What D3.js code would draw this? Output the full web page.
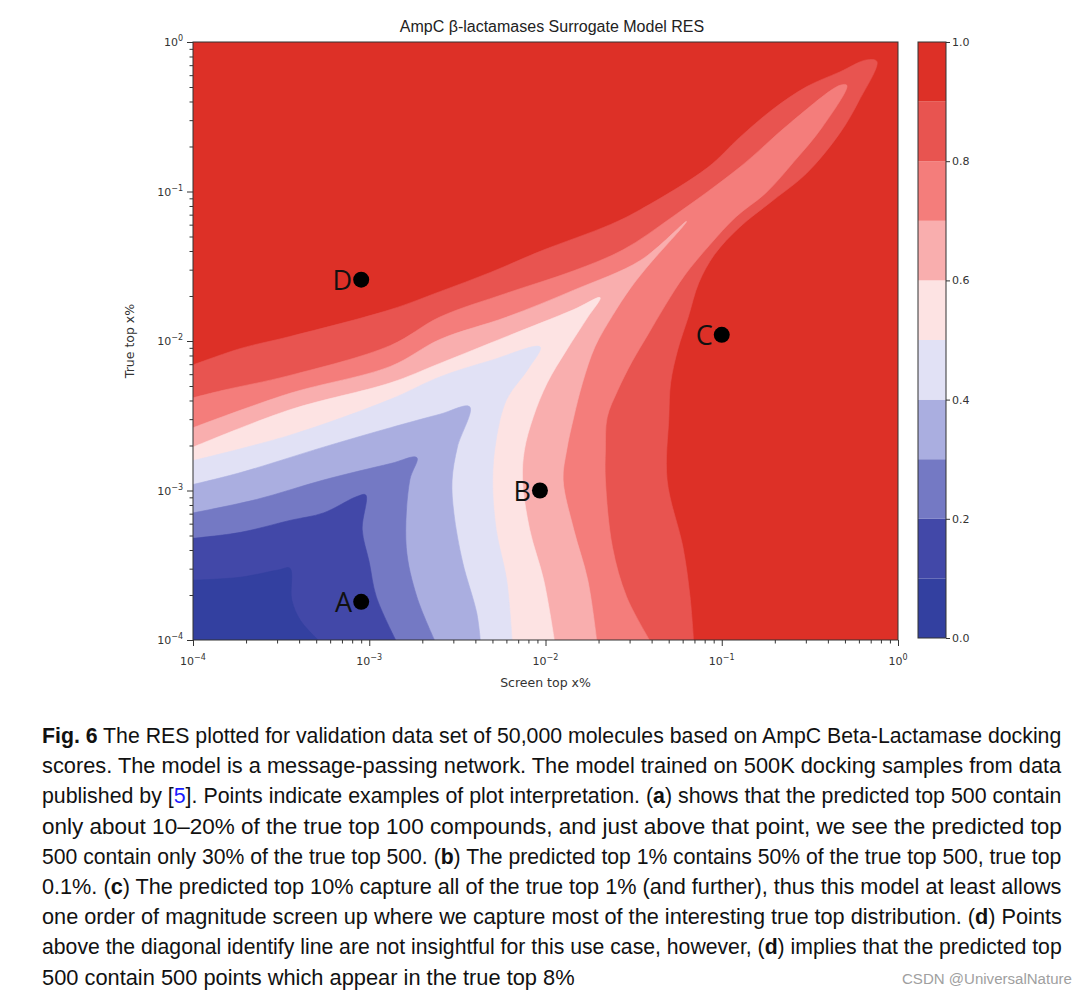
<!DOCTYPE html>
<html>
<head>
<meta charset="utf-8">
<script src="https://cdn.jsdelivr.net/npm/d3@7"></script>
<style>
  body { margin: 0; background: #fff; }
  svg { display: block; }
</style>
</head>
<body>
<svg id="chart" width="1088" height="1000"></svg>
<script>
// ---- data ----
const levels = [0, 0.1, 0.2, 0.3, 0.4, 0.5, 0.6, 0.7, 0.8, 0.9, 1.0];
const bandColors = ["#3340a0", "#4248a8", "#7479c4", "#aaaee0", "#e1e1f5",
                    "#fde3e3", "#f9aeae", "#f47d7b", "#e85450", "#dd3027"];

// contour lines: [log10 screen top, log10 true top], from left edge round to bottom edge
const c01 = [[-4,-3.60],[-3.73,-3.58],[-3.51,-3.53],[-3.45,-3.52],[-3.44,-3.73],[-3.39,-3.87],[-3.29,-4]];
const c02 = [[-4,-3.32],[-3.73,-3.28],[-3.45,-3.20],[-3.26,-3.15],[-3.07,-3.04],[-3.02,-3.03],[-3.04,-3.26],[-3.00,-3.48],[-2.96,-3.71],[-2.85,-4]];
const c03 = [[-4,-3.15],[-3.64,-3.06],[-3.26,-2.93],[-2.88,-2.82],[-2.73,-2.78],[-2.77,-2.93],[-2.79,-3.38],[-2.73,-3.71],[-2.63,-4]];
const c04 = [[-4,-2.96],[-3.73,-2.88],[-3.26,-2.71],[-2.88,-2.58],[-2.60,-2.49],[-2.43,-2.44],[-2.50,-2.71],[-2.53,-2.93],[-2.52,-3.15],[-2.47,-3.48],[-2.39,-3.82],[-2.37,-4]];
const c05 = [[-4,-2.80],[-3.45,-2.63],[-2.88,-2.39],[-2.60,-2.24],[-2.31,-2.13],[-2.03,-2.04],[-2.10,-2.19],[-2.22,-2.39],[-2.28,-2.66],[-2.30,-2.93],[-2.28,-3.26],[-2.22,-3.60],[-2.19,-4]];
const c06 = [[-4,-2.71],[-3.45,-2.46],[-2.88,-2.28],[-2.60,-2.15],[-2.22,-1.97],[-1.84,-1.79],[-1.69,-1.71],[-1.76,-1.84],[-1.88,-2.06],[-1.99,-2.28],[-2.07,-2.51],[-2.12,-2.73],[-2.13,-2.93],[-2.09,-3.26],[-2.01,-3.60],[-1.95,-4]];
const c07 = [[-4,-2.58],[-3.45,-2.35],[-2.88,-2.17],[-2.60,-1.99],[-2.22,-1.84],[-1.84,-1.66],[-1.46,-1.46],[-1.20,-1.20],[-1.42,-1.50],[-1.52,-1.65],[-1.62,-1.83],[-1.72,-2.04],[-1.79,-2.28],[-1.84,-2.51],[-1.88,-2.73],[-1.90,-2.93],[-1.84,-3.26],[-1.76,-3.60],[-1.71,-4]];
const c08 = [[-4,-2.38],[-3.83,-2.33],[-3.45,-2.23],[-2.88,-2.03],[-2.60,-1.84],[-2.22,-1.68],[-1.84,-1.53],[-1.56,-1.39],[-1.28,-1.17],[-0.90,-0.84],[-0.61,-0.54],[-0.33,-0.29],[-0.29,-0.29],[-0.43,-0.57],[-0.59,-0.80],[-0.75,-1.01],[-0.92,-1.17],[-1.07,-1.36],[-1.21,-1.56],[-1.32,-1.76],[-1.42,-1.96],[-1.51,-2.14],[-1.59,-2.33],[-1.65,-2.51],[-1.66,-2.73],[-1.66,-2.93],[-1.62,-3.38],[-1.54,-3.71],[-1.41,-4]];
const c09 = [[-4,-2.16],[-3.73,-2.05],[-3.45,-1.97],[-2.88,-1.79],[-2.60,-1.67],[-2.31,-1.54],[-2.03,-1.40],[-1.63,-1.22],[-1.46,-1.12],[-1.08,-0.84],[-0.90,-0.64],[-0.71,-0.45],[-0.52,-0.30],[-0.33,-0.20],[-0.18,-0.12],[-0.12,-0.13],[-0.22,-0.39],[-0.33,-0.61],[-0.52,-0.88],[-0.71,-1.06],[-0.90,-1.24],[-1.04,-1.42],[-1.13,-1.61],[-1.19,-1.84],[-1.25,-2.06],[-1.29,-2.28],[-1.30,-2.51],[-1.31,-2.93],[-1.22,-3.38],[-1.18,-3.71],[-1.16,-4]];
const contourLines = [c01, c02, c03, c04, c05, c06, c07, c08, c09]; // level 0.1 .. 0.9

const markers = [
  { label: "A", x: 0.0009, y: 0.00018 },
  { label: "B", x: 0.0093, y: 0.001 },
  { label: "C", x: 0.1, y: 0.011 },
  { label: "D", x: 0.0009, y: 0.0257 }
];

const majorTicks = [1e-4, 1e-3, 1e-2, 1e-1, 1];
const majorExp = ["\u22124", "\u22123", "\u22122", "\u22121", "0"];
const cbarTicks = [0, 0.2, 0.4, 0.6, 0.8, 1.0];

const titleText = "AmpC \u03b2-lactamases Surrogate Model RES";
const xLabel = "Screen top x%";
const yLabel = "True top x%";

// caption lines: [text, style]
const caption = [
  [["Fig. 6", "b"], [" The RES plotted for validation data set of 50,000 molecules based on AmpC Beta-Lactamase docking"]],
  [["scores. The model is a message-passing network. The model trained on 500K docking samples from data"]],
  [["published by ["], ["5", "link"], ["]. Points indicate examples of plot interpretation. ("], ["a", "b"], [") shows that the predicted top 500 contain"]],
  [["only about 10\u201320% of the true top 100 compounds, and just above that point, we see the predicted top"]],
  [["500 contain only 30% of the true top 500. ("], ["b", "b"], [") The predicted top 1% contains 50% of the true top 500, true top"]],
  [["0.1%. ("], ["c", "b"], [") The predicted top 10% capture all of the true top 1% (and further), thus this model at least allows"]],
  [["one order of magnitude screen up where we capture most of the interesting true top distribution. ("], ["d", "b"], [") Points"]],
  [["above the diagonal identify line are not insightful for this use case, however, ("], ["d", "b"], [") implies that the predicted top"]],
  [["500 contain 500 points which appear in the true top 8%"]]
];
const watermark = "CSDN @UniversalNature";

// ---- layout ----
const plot = { left: 193, right: 898, top: 42, bottom: 640 };
const cbar = { left: 918, right: 946, top: 42, bottom: 638 };

const svg = d3.select("#chart");

const x = d3.scaleLog().domain([1e-4, 1]).range([plot.left, plot.right]);
const y = d3.scaleLog().domain([1e-4, 1]).range([plot.bottom, plot.top]);
const xs = v => x(Math.pow(10, v));
const ys = v => y(Math.pow(10, v));

svg.append("clipPath").attr("id", "plotClip")
  .append("rect")
  .attr("x", plot.left).attr("y", plot.top)
  .attr("width", plot.right - plot.left).attr("height", plot.bottom - plot.top);

const gC = svg.append("g").attr("clip-path", "url(#plotClip)");

// top band fills the whole area, lower bands stacked on top
gC.append("rect")
  .attr("x", plot.left).attr("y", plot.top)
  .attr("width", plot.right - plot.left).attr("height", plot.bottom - plot.top)
  .attr("fill", bandColors[9]);

const lineGen = d3.line()
  .x(d => xs(d[0]))
  .y(d => ys(d[1]))
  .curve(d3.curveCatmullRom.alpha(0.5));

function regionPath(pts) {
  const first = pts[0], last = pts[pts.length - 1];
  const out = 10;
  return lineGen(pts) +
    `L${xs(last[0])},${plot.bottom + out}` +
    `L${plot.left - out},${plot.bottom + out}` +
    `L${plot.left - out},${ys(first[1])}Z`;
}

for (let i = contourLines.length - 1; i >= 0; i--) {
  gC.append("path")
    .attr("d", regionPath(contourLines[i]))
    .attr("fill", bandColors[i])
    .attr("stroke", bandColors[i])
    .attr("stroke-width", 0.6);
}

// frame
svg.append("rect")
  .attr("x", plot.left).attr("y", plot.top)
  .attr("width", plot.right - plot.left).attr("height", plot.bottom - plot.top)
  .attr("fill", "none").attr("stroke", "#333").attr("stroke-width", 1);

// ---- axes ----
const minorTicks = [];
for (let e = -4; e < 0; e++) {
  for (let m = 2; m <= 9; m++) minorTicks.push(m * Math.pow(10, e));
}

function styleAxis(g) {
  g.select(".domain").remove();
  g.selectAll("line").attr("stroke", "#333");
}

svg.append("g").attr("transform", `translate(0,${plot.bottom})`)
  .call(d3.axisBottom(x).tickValues(majorTicks).tickSize(6).tickFormat(""))
  .call(styleAxis);
svg.append("g").attr("transform", `translate(0,${plot.bottom})`)
  .call(d3.axisBottom(x).tickValues(minorTicks).tickSize(3.5).tickFormat(""))
  .call(styleAxis);
svg.append("g").attr("transform", `translate(${plot.left},0)`)
  .call(d3.axisLeft(y).tickValues(majorTicks).tickSize(6).tickFormat(""))
  .call(styleAxis);
svg.append("g").attr("transform", `translate(${plot.left},0)`)
  .call(d3.axisLeft(y).tickValues(minorTicks).tickSize(3.5).tickFormat(""))
  .call(styleAxis);

const tickFont = "'DejaVu Sans', sans-serif";

function powLabel(sel, i) {
  sel.append("tspan").text("10");
  sel.append("tspan").attr("dy", -5).attr("font-size", 8).text(majorExp[i]);
}

majorTicks.forEach((t, i) => {
  const tx = svg.append("text")
    .attr("x", x(t)).attr("y", plot.bottom + 25)
    .attr("text-anchor", "middle")
    .attr("font-family", tickFont).attr("font-size", 11).attr("fill", "#333");
  powLabel(tx, i);

  const ty = svg.append("text")
    .attr("x", plot.left - 10).attr("y", y(t) + 4)
    .attr("text-anchor", "end")
    .attr("font-family", tickFont).attr("font-size", 11).attr("fill", "#333");
  powLabel(ty, i);
});

svg.append("text")
  .attr("x", (plot.left + plot.right) / 2).attr("y", plot.bottom + 47)
  .attr("text-anchor", "middle")
  .attr("font-family", tickFont).attr("font-size", 12.5).attr("fill", "#333")
  .text(xLabel);

svg.append("text")
  .attr("transform", `translate(${plot.left - 59},${(plot.top + plot.bottom) / 2}) rotate(-90)`)
  .attr("text-anchor", "middle")
  .attr("font-family", tickFont).attr("font-size", 12.5).attr("fill", "#333")
  .text(yLabel);

svg.append("text")
  .attr("x", 552).attr("y", plot.top - 10)
  .attr("text-anchor", "middle")
  .attr("font-family", "'Liberation Sans', Arial, sans-serif").attr("font-size", 16).attr("fill", "#222")
  .text(titleText);

// ---- markers ----
markers.forEach(m => {
  svg.append("circle")
    .attr("cx", x(m.x)).attr("cy", y(m.y)).attr("r", 8).attr("fill", "#000");
  svg.append("text")
    .attr("x", x(m.x) - 9).attr("y", y(m.y) + 10)
    .attr("text-anchor", "end")
    .attr("font-family", "'Open Sans', sans-serif").attr("font-size", 27).attr("fill", "#111")
    .text(m.label);
});

// ---- colorbar ----
const cy = d3.scaleLinear().domain([0, 1]).range([cbar.bottom, cbar.top]);
svg.append("g").selectAll("rect")
  .data(d3.range(levels.length - 1))
  .join("rect")
  .attr("x", cbar.left).attr("width", cbar.right - cbar.left)
  .attr("y", i => cy(levels[i + 1]))
  .attr("height", i => cy(levels[i]) - cy(levels[i + 1]))
  .attr("fill", i => bandColors[i]);
svg.append("rect")
  .attr("x", cbar.left).attr("y", cbar.top)
  .attr("width", cbar.right - cbar.left).attr("height", cbar.bottom - cbar.top)
  .attr("fill", "none").attr("stroke", "#333");
svg.append("g").attr("transform", `translate(${cbar.right},0)`)
  .call(d3.axisRight(cy).tickValues(cbarTicks).tickSize(4).tickPadding(2).tickFormat(d3.format(".1f")))
  .call(styleAxis)
  .call(g => g.selectAll("text").attr("font-family", tickFont).attr("font-size", 11).attr("fill", "#333"));

// ---- caption (each line squeezed to the justified width) ----
const capFont = "'Liberation Sans', Arial, sans-serif";
const capLeft = 42, capWidth = 1020, lastWidth = 533, capTop = 743, capStep = 30.2;
caption.forEach((line, i) => {
  const t = svg.append("text")
    .attr("x", 0).attr("y", 0)
    .attr("font-family", capFont).attr("font-size", 22.5).attr("fill", "#111");
  line.forEach(seg => {
    const s = t.append("tspan").text(seg[0]);
    if (seg[1] === "b") s.attr("font-weight", "bold");
    if (seg[1] === "link") s.attr("fill", "#1a1aff");
  });
  const w = t.node().getComputedTextLength();
  const target = i === caption.length - 1 ? lastWidth : capWidth;
  t.attr("transform", `translate(${capLeft},${capTop + i * capStep}) scale(${target / w},1)`);
});

const wm = svg.append("text")
  .attr("x", 0).attr("y", 0)
  .attr("font-family", "'Liberation Sans', sans-serif").attr("font-size", 15.5).attr("fill", "#a0a0a0")
  .text(watermark);
const wmW = wm.node().getComputedTextLength();
wm.attr("transform", `translate(${1072 - 170},984) scale(${170 / wmW},1)`);
</script>
</body>
</html>
